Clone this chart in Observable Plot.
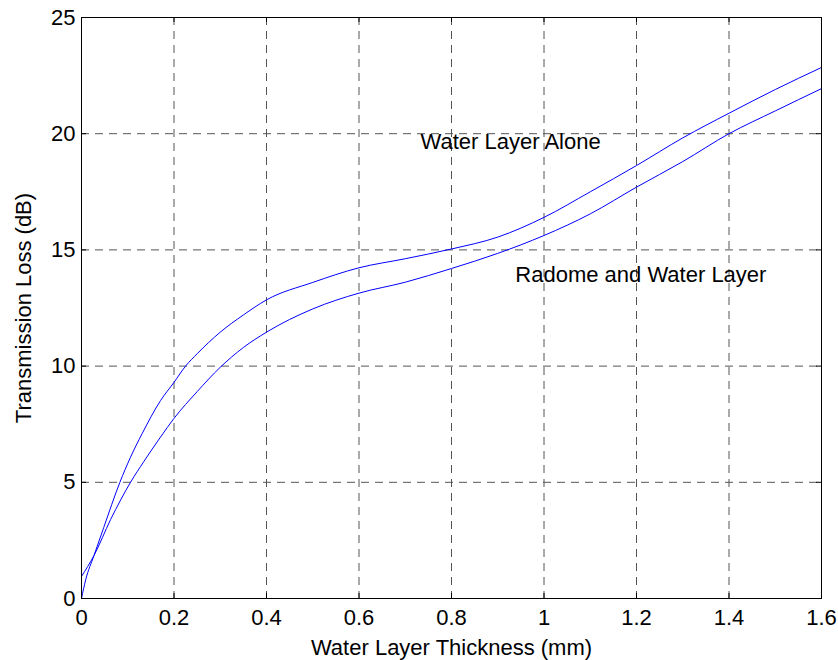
<!DOCTYPE html>
<html>
<head>
<meta charset="utf-8">
<script src="https://cdn.jsdelivr.net/npm/d3@7"></script>
<script src="https://cdn.jsdelivr.net/npm/@observablehq/plot@0.6"></script>
<style>
  body { margin: 0; background: #fff; }
  #chart svg { display: block; }
</style>
</head>
<body>
<div id="chart"></div>
<script>
// Axis ticks
const xTicks = [0, 0.2, 0.4, 0.6, 0.8, 1, 1.2, 1.4, 1.6];
const yTicks = [0, 5, 10, 15, 20, 25];

// Series: Water Layer Alone (starts at 0 dB, upper curve later)
const waterAloneX = [0, 0.009, 0.027, 0.048, 0.083, 0.106, 0.131, 0.171, 0.2, 0.225, 0.25, 0.3, 0.35, 0.4, 0.5, 0.6, 0.7, 0.8, 0.9, 1.0, 1.1, 1.2, 1.3, 1.4, 1.5, 1.6];
const waterAloneY = [0, 0.8, 1.85, 3.05, 5.0, 6.08, 7.09, 8.52, 9.3, 10.0, 10.53, 11.46, 12.2, 12.85, 13.6, 14.23, 14.62, 15.04, 15.55, 16.4, 17.5, 18.63, 19.82, 20.88, 21.9, 22.85];

// Series: Radome and Water Layer (starts near 1 dB, lower curve later)
const radomeX = [0, 0.027, 0.063, 0.106, 0.135, 0.171, 0.2, 0.25, 0.3, 0.35, 0.4, 0.5, 0.6, 0.7, 0.8, 0.9, 1.0, 1.1, 1.2, 1.3, 1.4, 1.5, 1.6];
const radomeY = [0.95, 1.85, 3.4, 5.0, 5.9, 6.95, 7.75, 8.9, 9.95, 10.8, 11.46, 12.46, 13.14, 13.61, 14.2, 14.85, 15.62, 16.55, 17.7, 18.8, 20.0, 20.98, 21.94];

// Annotations
const labelText = ["Water Layer Alone", "Radome and Water Layer"];
const labelX = [0.733, 0.938];
const labelY = [19.66, 13.94];

const rows = [
  ...waterAloneX.map((x, i) => ({series: "Water Layer Alone", x, y: waterAloneY[i]})),
  ...radomeX.map((x, i) => ({series: "Radome and Water Layer", x, y: radomeY[i]}))
];

const W = 838, H = 660, mL = 81, mR = 17, mT = 17, mB = 62;
const innerW = W - mL - mR, innerH = H - mT - mB, tick = 5;
const gridStyle = {stroke: "#555", strokeOpacity: 1, strokeWidth: 1, strokeDasharray: "8,6"};

const chart = Plot.plot({
  width: W, height: H,
  marginLeft: mL, marginRight: mR, marginTop: mT, marginBottom: mB,
  style: {fontFamily: "'Liberation Sans', Arial, sans-serif", fontSize: "22px", background: "#fff", color: "#000", overflow: "visible"},
  x: {domain: [0, 1.6]},
  y: {domain: [0, 25]},
  marks: [
    Plot.gridX(xTicks, gridStyle),
    Plot.gridY(yTicks, gridStyle),
    Plot.line(rows, {x: "x", y: "y", z: "series", stroke: "#0000ff", strokeWidth: 1, curve: "monotone-x"}),
    Plot.text(labelText, {x: labelX, y: labelY, text: d => d, textAnchor: "start", fontSize: 22, fill: "#000"}),
    // inward ticks on all four sides
    Plot.ruleX(xTicks, {stroke: "#000", insetTop: innerH - tick}),
    Plot.ruleX(xTicks, {stroke: "#000", insetBottom: innerH - tick}),
    Plot.ruleY(yTicks, {stroke: "#000", insetRight: innerW - tick}),
    Plot.ruleY(yTicks, {stroke: "#000", insetLeft: innerW - tick}),
    Plot.axisX(xTicks, {tickSize: 0, tickPadding: 11, tickFormat: d => String(d),
      label: "Water Layer Thickness (mm)", labelAnchor: "center", labelArrow: "none", labelOffset: 56}),
    Plot.axisY(yTicks, {tickSize: 0, tickPadding: 6, tickFormat: d => String(d),
      label: "Transmission Loss (dB)", labelAnchor: "center", labelArrow: "none", labelOffset: 66}),
    Plot.frame({stroke: "#000", strokeWidth: 1})
  ]
});
document.getElementById("chart").appendChild(chart);
</script>
</body>
</html>
